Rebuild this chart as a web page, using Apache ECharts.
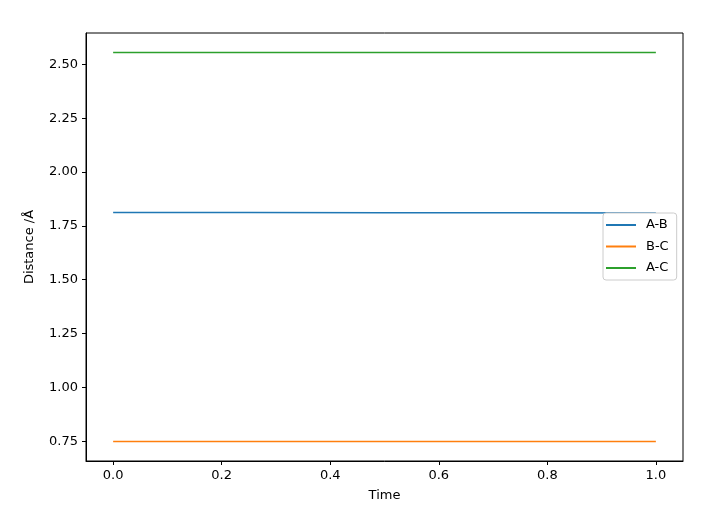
<!DOCTYPE html>
<html><head><meta charset="utf-8">
<script src="https://cdn.jsdelivr.net/npm/echarts@6/dist/echarts.min.js"></script>
<style>html,body{margin:0;padding:0;background:#fff}#c{width:719px;height:515px}</style>
</head><body><div id="c"></div>
<script>
const times = [0.0, 0.25, 0.5, 0.75, 1.0];
const seriesNames = ['A-B', 'B-C', 'A-C'];
const abValues = [1.812, 1.812, 1.811, 1.811, 1.810];
const bcValues = [0.748, 0.748, 0.748, 0.748, 0.748];
const acValues = [2.556, 2.556, 2.556, 2.555, 2.555];
const xTicks = [0.0, 0.2, 0.4, 0.6, 0.8, 1.0];
const yTicks = [0.75, 1.00, 1.25, 1.50, 1.75, 2.00, 2.25, 2.50];
const colors = ['#1f77b4', '#ff7f0e', '#2ca02c'];
const font = 'DejaVu Sans';
const chart = echarts.init(document.getElementById('c'), null, {renderer: 'canvas'});
const mk = (name, vals, color) => ({
  name, type: 'line', symbol: 'none', silent: true, animation: false,
  data: times.map((t, i) => [t, vals[i]]),
  lineStyle: {color, width: 1.5}, itemStyle: {color}
});
chart.setOption({
  animation: false,
  grid: {left: 86, right: 36, top: 33, bottom: 54, show: false},
  xAxis: {
    type: 'value', min: -0.05, max: 1.05,
    name: 'Time', nameLocation: 'middle', nameGap: 28,
    nameTextStyle: {fontFamily: font, fontSize: 13, color: '#000'},
    axisLine: {show: true, onZero: false, lineStyle: {color: '#000', width: 1}},
    axisTick: {show: true, length: 4, lineStyle: {color: '#000'}, customValues: xTicks},
    axisLabel: {fontFamily: font, fontSize: 13, color: '#000', margin: 8, customValues: xTicks,
      formatter: v => v.toFixed(1)},
    splitLine: {show: false}
  },
  yAxis: {
    type: 'value', min: 0.658, max: 2.646,
    name: 'Distance /Å', nameLocation: 'middle', nameGap: 50, nameRotate: 90,
    nameTextStyle: {fontFamily: font, fontSize: 13, color: '#000'},
    axisLine: {show: true, onZero: false, lineStyle: {color: '#000', width: 1}},
    axisTick: {show: true, length: 4, lineStyle: {color: '#000'}, customValues: yTicks},
    axisLabel: {fontFamily: font, fontSize: 13, color: '#000', margin: 8, customValues: yTicks,
      formatter: v => v.toFixed(2)},
    splitLine: {show: false}
  },
  graphic: [{type: 'rect', shape: {x: 86, y: 33, width: 597, height: 428}, silent: true,
    style: {fill: 'none', stroke: '#000', lineWidth: 1}, z: 10}],
  legend: {
    left: 603, top: 213, orient: 'vertical',
    data: seriesNames.map((n) => ({name: n, icon: 'rect'})),
    itemWidth: 30, itemHeight: 2, itemGap: 8.5,
    backgroundColor: '#fff', borderColor: '#ccc', borderWidth: 1, borderRadius: 3,
    padding: [5.5, 8, 5.5, 3],
    textStyle: {fontFamily: font, fontSize: 13, color: '#000', padding: [0, 0, 0, 5]}
  },
  series: [mk('A-B', abValues, colors[0]), mk('B-C', bcValues, colors[1]), mk('A-C', acValues, colors[2])]
});
</script></body></html>
